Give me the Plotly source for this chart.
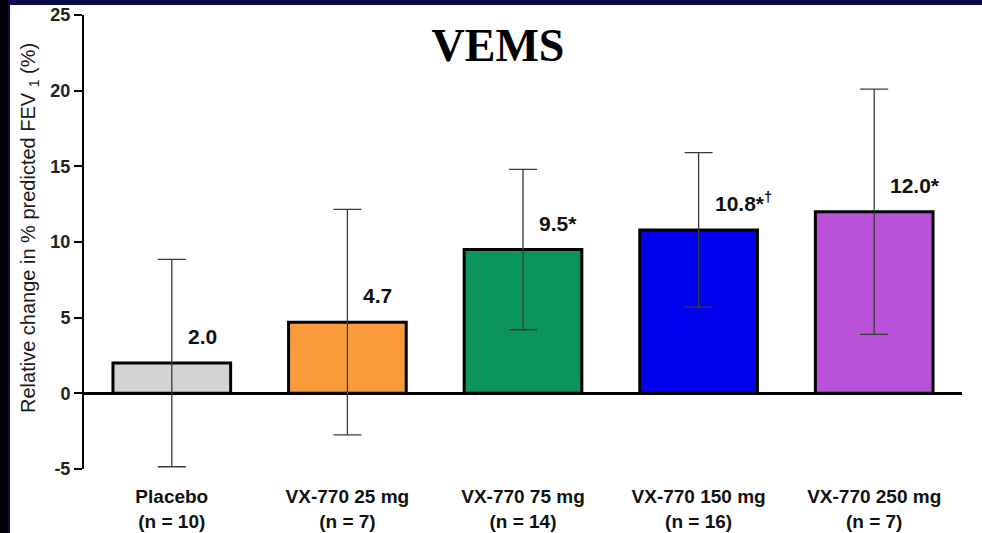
import plotly.graph_objects as go

# Relative change in % predicted FEV1 by dose group
groups = ["Placebo", "VX-770 25 mg", "VX-770 75 mg", "VX-770 150 mg", "VX-770 250 mg"]
n_patients = [10, 7, 14, 16, 7]
mean_change = [2.0, 4.7, 9.5, 10.8, 12.0]
error_half = [6.85, 7.45, 5.3, 5.1, 8.1]
significance = ["", "", "*", "*<sup>†</sup>", "*"]
bar_colors = ["#d4d4d4", "#f99b3b", "#0b955d", "#0202ee", "#b952d9"]
y_ticks = [-5, 0, 5, 10, 15, 20, 25]
y_tick_text = ["-5", "0", "5", "10", "15", "20", "25"]

W, H = 982, 533
L, R, T, B = 84, 20, 15, 64
plot_w = W - L - R
plot_h = H - T - B


def px_x(p):
    return (p - L) / plot_w


def px_y(p):
    return (H - B - p) / plot_h


fig = go.Figure()
fig.add_trace(go.Bar(
    x=groups,
    y=mean_change,
    width=0.67,
    marker=dict(color=bar_colors, line=dict(color="black", width=3)),
    error_y=dict(type="data", array=error_half, visible=True,
                 color="#3a3a3a", thickness=1.3, width=14),
    hoverinfo="skip",
))

# value labels next to each error bar
for g, v, s in zip(groups, mean_change, significance):
    fig.add_annotation(
        x=g, y=v, xref="x", yref="y",
        text=f"{v:.1f}{s}", showarrow=False,
        xanchor="left", yanchor="bottom", xshift=14, yshift=13,
        font=dict(family="Arial, Liberation Sans", size=21, color="#111", weight="bold"),
    )

# y-axis title
fig.add_annotation(
    x=px_x(29), y=px_y(228), xref="paper", yref="paper",
    text="Relative change in % predicted FEV <sub>1</sub> (%)",
    textangle=-90, showarrow=False, xanchor="center", yanchor="middle",
    font=dict(family="Arial, Liberation Sans", size=20, color="#1a1a1a"),
)

# slide frame: navy band on top, dark strip on the left
fig.add_shape(type="rect", xref="paper", yref="paper",
              x0=px_x(0), x1=px_x(W), y0=px_y(5), y1=px_y(-2),
              fillcolor="#0a0c4e", line_width=0, layer="above")
fig.add_shape(type="rect", xref="paper", yref="paper",
              x0=px_x(-2), x1=px_x(8), y0=px_y(H + 2), y1=px_y(-2),
              fillcolor="#020208", line_width=0, layer="above")
fig.add_shape(type="rect", xref="paper", yref="paper",
              x0=px_x(8), x1=px_x(10), y0=px_y(H + 2), y1=px_y(5),
              fillcolor="#0a0c4e", line_width=0, layer="above")

tick_text = [f"{g}<br>(n = {n})" for g, n in zip(groups, n_patients)]

fig.update_layout(
    width=W, height=H,
    margin=dict(l=L, r=R, t=T, b=B, autoexpand=False),
    paper_bgcolor="white", plot_bgcolor="white",
    showlegend=False,
    title=dict(text="VEMS", x=498 / W, y=1 - 45 / H, xanchor="center", yanchor="middle",
               font=dict(family="Times New Roman, Liberation Serif", size=46,
                         color="black", weight="bold")),
    xaxis=dict(
        type="category", range=[-0.5, 4.5], automargin=False,
        tickmode="array", tickvals=groups, ticktext=tick_text,
        showline=False, showgrid=False, zeroline=False, ticks="",
        ticklabelstandoff=14,
        tickfont=dict(family="Arial, Liberation Sans", size=19, color="#111", weight="bold"),
    ),
    yaxis=dict(
        range=[-5, 25], automargin=False,
        tickmode="array", tickvals=y_ticks, ticktext=y_tick_text,
        showgrid=False, showline=True, linecolor="black", linewidth=2,
        ticks="outside", ticklen=8, tickwidth=2, tickcolor="black",
        zeroline=True, zerolinecolor="black", zerolinewidth=2.5,
        tickfont=dict(family="Arial, Liberation Sans", size=18, color="#222", weight="bold"),
    ),
)

fig.write_html("out.html")
